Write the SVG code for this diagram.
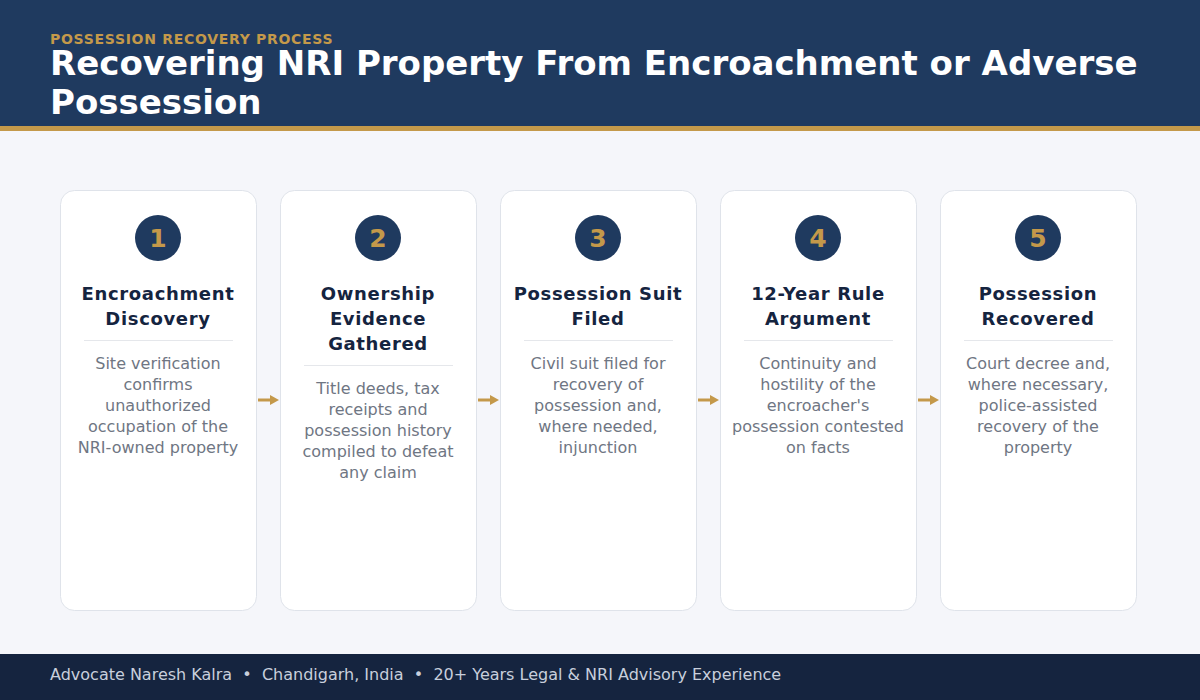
<svg xmlns="http://www.w3.org/2000/svg" width="1200" height="700" viewBox="0 0 1200 700">
<defs>
<style>
.card{fill:#ffffff;stroke:#dfe3ea;stroke-width:1}
.num-c{fill:#1f3a5f}
.num{font-family:"DejaVu Sans",sans-serif;font-weight:bold;font-size:25px;fill:#c4994a;text-anchor:middle}
.ttl{font-family:"DejaVu Sans",sans-serif;font-weight:bold;font-size:18px;fill:#15243f;text-anchor:middle;letter-spacing:0.65px}
.dsc{font-family:"DejaVu Sans",sans-serif;font-size:16px;fill:#6f7683;text-anchor:middle}
.div{stroke:#e5e7eb;stroke-width:1}
.arr{stroke:#c4994a;stroke-width:3}
</style>
<marker id="ah" markerWidth="10" markerHeight="10" refX="0" refY="5" orient="auto" markerUnits="userSpaceOnUse">
<path d="M0,0 L9,5 L0,10 Z" fill="#c4994a"/>
</marker>
</defs>
<rect x="0" y="0" width="1200" height="700" fill="#f5f6fa"/>
<g id="header">
<rect x="0" y="0" width="1200" height="126" fill="#1f3a5f"/>
<rect x="0" y="126" width="1200" height="5" fill="#c4994a"/>
<text x="50" y="44" font-family="DejaVu Sans, sans-serif" font-weight="bold" font-size="14" fill="#c4994a" letter-spacing="0.7">POSSESSION RECOVERY PROCESS</text>
<text font-family="DejaVu Sans, sans-serif" font-weight="bold" font-size="34" fill="#ffffff"><tspan x="50" y="75">Recovering NRI Property From Encroachment or Adverse</tspan><tspan x="50" y="114">Possession</tspan></text>
</g>
<g id="connectors">
<line class="arr" x1="258" y1="400" x2="270" y2="400" marker-end="url(#ah)"/>
<line class="arr" x1="478" y1="400" x2="490" y2="400" marker-end="url(#ah)"/>
<line class="arr" x1="698" y1="400" x2="710" y2="400" marker-end="url(#ah)"/>
<line class="arr" x1="918" y1="400" x2="930" y2="400" marker-end="url(#ah)"/>
</g>
<g id="step1">
<rect class="card" x="60.5" y="190.5" width="196" height="420" rx="14"/>
<circle class="num-c" cx="158" cy="238" r="23"/>
<text class="num" x="158" y="247">1</text>
<text class="ttl"><tspan x="158" y="300">Encroachment</tspan><tspan x="158" y="325">Discovery</tspan></text>
<line class="div" x1="84" y1="340.5" x2="233" y2="340.5"/>
<text class="dsc"><tspan x="158" y="369">Site verification</tspan><tspan x="158" y="390">confirms</tspan><tspan x="158" y="411">unauthorized</tspan><tspan x="158" y="432">occupation of the</tspan><tspan x="158" y="453">NRI-owned property</tspan></text>
</g>
<g id="step2">
<rect class="card" x="280.5" y="190.5" width="196" height="420" rx="14"/>
<circle class="num-c" cx="378" cy="238" r="23"/>
<text class="num" x="378" y="247">2</text>
<text class="ttl"><tspan x="378" y="300">Ownership</tspan><tspan x="378" y="325">Evidence</tspan><tspan x="378" y="350">Gathered</tspan></text>
<line class="div" x1="304" y1="365.5" x2="453" y2="365.5"/>
<text class="dsc"><tspan x="378" y="394">Title deeds, tax</tspan><tspan x="378" y="415">receipts and</tspan><tspan x="378" y="436">possession history</tspan><tspan x="378" y="457">compiled to defeat</tspan><tspan x="378" y="478">any claim</tspan></text>
</g>
<g id="step3">
<rect class="card" x="500.5" y="190.5" width="196" height="420" rx="14"/>
<circle class="num-c" cx="598" cy="238" r="23"/>
<text class="num" x="598" y="247">3</text>
<text class="ttl"><tspan x="598" y="300">Possession Suit</tspan><tspan x="598" y="325">Filed</tspan></text>
<line class="div" x1="524" y1="340.5" x2="673" y2="340.5"/>
<text class="dsc"><tspan x="598" y="369">Civil suit filed for</tspan><tspan x="598" y="390">recovery of</tspan><tspan x="598" y="411">possession and,</tspan><tspan x="598" y="432">where needed,</tspan><tspan x="598" y="453">injunction</tspan></text>
</g>
<g id="step4">
<rect class="card" x="720.5" y="190.5" width="196" height="420" rx="14"/>
<circle class="num-c" cx="818" cy="238" r="23"/>
<text class="num" x="818" y="247">4</text>
<text class="ttl"><tspan x="818" y="300">12-Year Rule</tspan><tspan x="818" y="325">Argument</tspan></text>
<line class="div" x1="744" y1="340.5" x2="893" y2="340.5"/>
<text class="dsc"><tspan x="818" y="369">Continuity and</tspan><tspan x="818" y="390">hostility of the</tspan><tspan x="818" y="411">encroacher's</tspan><tspan x="818" y="432">possession contested</tspan><tspan x="818" y="453">on facts</tspan></text>
</g>
<g id="step5">
<rect class="card" x="940.5" y="190.5" width="196" height="420" rx="14"/>
<circle class="num-c" cx="1038" cy="238" r="23"/>
<text class="num" x="1038" y="247">5</text>
<text class="ttl"><tspan x="1038" y="300">Possession</tspan><tspan x="1038" y="325">Recovered</tspan></text>
<line class="div" x1="964" y1="340.5" x2="1113" y2="340.5"/>
<text class="dsc"><tspan x="1038" y="369">Court decree and,</tspan><tspan x="1038" y="390">where necessary,</tspan><tspan x="1038" y="411">police-assisted</tspan><tspan x="1038" y="432">recovery of the</tspan><tspan x="1038" y="453">property</tspan></text>
</g>
<g id="footer">
<rect x="0" y="654" width="1200" height="46" fill="#15243f"/>
<text x="50" y="680" font-family="DejaVu Sans, sans-serif" font-size="16" fill="#c8cfdc" xml:space="preserve">Advocate Naresh Kalra  •  Chandigarh, India  •  20+ Years Legal &amp; NRI Advisory Experience</text>
</g>
</svg>
